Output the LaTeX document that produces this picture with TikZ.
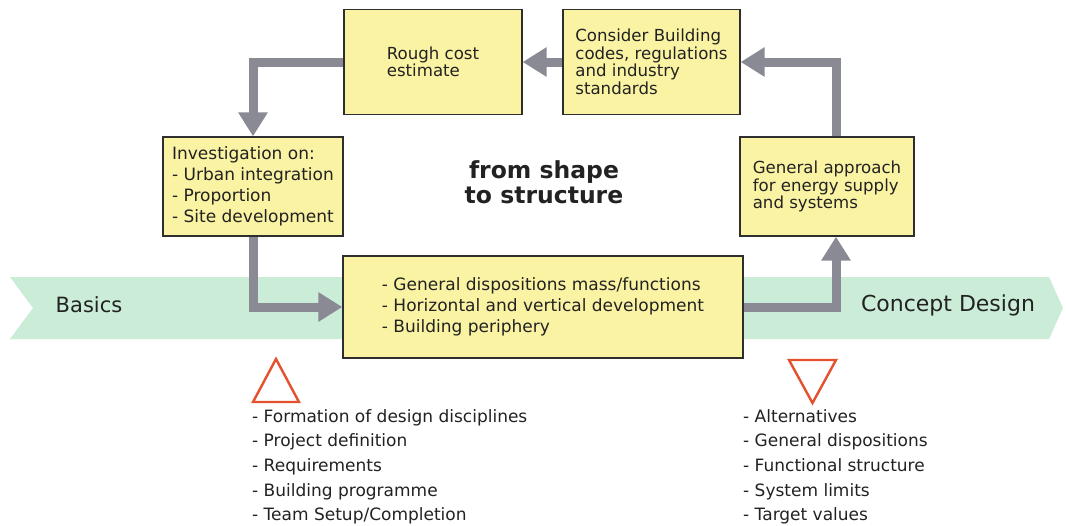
\documentclass[tikz,border=0pt]{standalone}
\usepackage{fontspec}
\setmainfont{DejaVu Sans}
\usetikzlibrary{arrows.meta,calc}
\definecolor{boxfill}{HTML}{FAF3A3}
\definecolor{boxline}{HTML}{2E2E2E}
\definecolor{bandgreen}{HTML}{CBEDD7}
\definecolor{arrowgray}{HTML}{8A8A94}
\definecolor{trired}{HTML}{E5502E}
\definecolor{txt}{HTML}{222222}
\begin{document}
\begin{tikzpicture}[x=1pt,y=-1pt,
  box/.style={draw=boxline, line width=1.3pt, fill=boxfill, inner sep=0pt, align=left, text=txt},
  smalltxt/.style={font=\fontsize{16.6}{17.5}\selectfont},
  bigtxt/.style={font=\fontsize{17}{21}\selectfont},
  flow/.style={draw=arrowgray, line width=9pt, -{Triangle[width=28pt,length=24pt]}},
  listtxt/.style={font=\fontsize{17}{24.7}\selectfont, align=left, inner sep=0pt, anchor=north west, text=txt},
  tri/.style={draw=trired, line width=2.4pt, line join=miter}
]
\useasboundingbox (0,0) rectangle (1066,525);
\fill[white] (0,0) rectangle (1066,525);
% band
\fill[bandgreen] (10,277) -- (1049,277) -- (1063,308) -- (1049,339) -- (10,339) -- (33,308) -- cycle;
\node[font=\fontsize{21}{24}\selectfont, text=txt] (basics) at (89,305) {Basics};
\node[font=\fontsize{22}{24}\selectfont, text=txt] (concept) at (948,305) {Concept Design};
% boxes
\node[box, smalltxt, minimum width=178pt, minimum height=105pt] (rough) at (433,62) {Rough cost\\estimate};
\node[box, smalltxt, minimum width=177pt, minimum height=105pt] (consider) at (651.5,62) {Consider Building\\codes, regulations\\and industry\\standards};
\node[box, bigtxt, minimum width=180pt, minimum height=99pt] (inv) at (253,186.5) {Investigation on:\\- Urban integration\\- Proportion\\- Site development};
\node[box, smalltxt, minimum width=174pt, minimum height=99pt] (gen) at (827,186.5) {General approach\\for energy supply\\and systems};
\node[box, bigtxt, minimum width=400pt, minimum height=102pt] (mid) at (543,307) {- General dispositions mass/functions\\- Horizontal and vertical development\\- Building periphery};
% title
\node[font=\bfseries\fontsize{23.5}{25}\selectfont, align=center, text=txt] (title) at (544,182) {from shape\\to structure};
% arrows
\draw[flow] (consider.west) -- (rough.east);
\draw[flow] (rough.west) -| (inv.north);
\draw[flow] (inv.south) |- (mid.west);
\draw[flow] (mid.east) -| ($(gen.south)+(9,0)$);
\draw[flow] ($(gen.north)+(9,0)$) |- (consider.east);
% triangles
\draw[tri] (253,402) -- (299,402) -- (276,359) -- cycle;
\draw[tri] (789,360) -- (836,360) -- (812.5,403) -- cycle;
% lists
\node[listtxt] (leftlist) at (252,409) {- Formation of design disciplines\\- Project definition\\- Requirements\\- Building programme\\- Team Setup/Completion};
\node[listtxt] (rightlist) at (743,409) {- Alternatives\\- General dispositions\\- Functional structure\\- System limits\\- Target values};
\end{tikzpicture}
\end{document}
